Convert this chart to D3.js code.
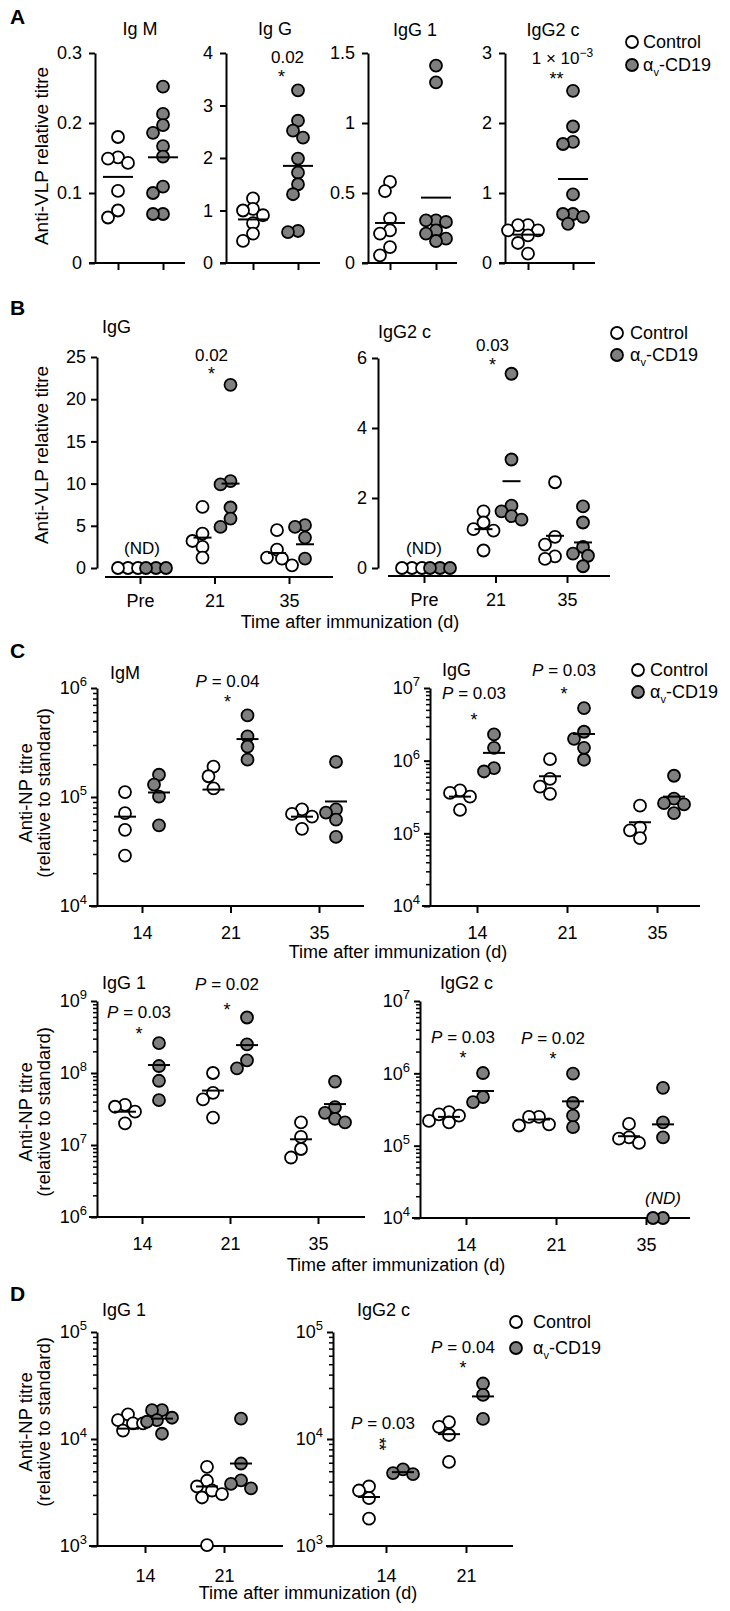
<!DOCTYPE html>
<html>
<head>
<meta charset="utf-8">
<script src="https://d3js.org/d3.v7.min.js"></script>
<style>
  html, body { margin:0; padding:0; background:#fff; }
  svg { display:block; }
</style>
</head>
<body>
<svg id="fig"></svg>
<script>
const FONT = "'Liberation Sans', Arial, Helvetica, sans-serif";
const GREY = "#7f7f7f";
const groups = ["Control", "αv-CD19"];

// ---------- A : anti-VLP, single bleed ----------
const A_IgM_control   = [0.18, 0.151, 0.149, 0.143, 0.103, 0.075, 0.065];
const A_IgM_cd19      = [0.252, 0.213, 0.197, 0.186, 0.167, 0.152, 0.109, 0.100, 0.070, 0.070];
const A_IgM_means     = [0.123, 0.151];
const A_IgG_control   = [1.23, 1.03, 1.0, 0.91, 0.76, 0.56, 0.42];
const A_IgG_cd19      = [3.29, 2.71, 2.52, 2.39, 1.99, 1.72, 1.50, 1.31, 0.61, 0.59];
const A_IgG_means     = [0.83, 1.85];
const A_IgG1_control  = [0.579, 0.514, 0.317, 0.233, 0.21, 0.114, 0.055];
const A_IgG1_cd19     = [1.41, 1.29, 0.305, 0.305, 0.293, 0.233, 0.21, 0.174, 0.157];
const A_IgG1_means    = [0.286, 0.467];
const A_IgG2c_control = [0.54, 0.54, 0.467, 0.467, 0.395, 0.286, 0.133];
const A_IgG2c_cd19    = [2.46, 1.95, 1.73, 1.70, 0.98, 0.70, 0.70, 0.66, 0.56];
const A_IgG2c_means   = [0.405, 1.20];

// ---------- B : anti-VLP over time ----------
const B_days = ["Pre", "21", "35"];
const B_IgG_control   = [[0, 0, 0], [7.25, 4.08, 3.2, 2.5, 1.23], [4.48, 2.18, 1.23, 1.1, 0.32]];
const B_IgG_cd19      = [[0, 0, 0], [21.7, 10.3, 9.9, 7.17, 5.86, 4.87], [5.07, 4.87, 3.6, 1.1]];
const B_IgG_meanCtl   = [null, 3.6, 1.78];
const B_IgG_meanCd19  = [null, 10.0, 2.81];
const B_IgG2c_control = [[0, 0, 0], [1.62, 1.30, 1.11, 1.07, 0.50], [2.45, 0.89, 0.67, 0.33, 0.26]];
const B_IgG2c_cd19    = [[0, 0, 0], [5.55, 3.10, 1.78, 1.62, 1.48, 1.38], [1.76, 1.30, 0.60, 0.41, 0.35, 0.05]];
const B_IgG2c_meanCtl = [null, 1.11, 0.92];
const B_IgG2c_meanCd19 = [null, 2.48, 0.73];

// ---------- C : anti-NP ----------
const C_days = ["14", "21", "35"];
const C_IgM_control   = [[1.11e5, 7.1e4, 5.0e4, 2.9e4], [1.9e5, 1.55e5, 1.2e5], [7.7e4, 7.0e4, 6.6e4, 5.1e4]];
const C_IgM_cd19      = [[1.6e5, 1.3e5, 1.01e5, 5.5e4], [5.6e5, 3.6e5, 2.9e5, 2.2e5], [2.1e5, 7.7e4, 7.2e4, 6.2e4, 4.3e4]];
const C_IgM_meanCtl   = [6.6e4, 1.17e5, 6.6e4];
const C_IgM_meanCd19  = [1.1e5, 3.4e5, 9.1e4];
const C_IgG_control   = [[3.9e5, 3.6e5, 3.2e5, 2.1e5], [1.05e6, 5.6e5, 4.4e5, 3.5e5], [2.4e5, 1.2e5, 1.1e5, 8.6e4]];
const C_IgG_cd19      = [[2.3e6, 1.5e6, 7.9e5, 7.1e5], [5.3e6, 2.5e6, 2.0e6, 1.5e6, 1.03e6], [6.2e5, 3.0e5, 2.6e5, 2.5e5, 1.9e5]];
const C_IgG_meanCtl   = [3.2e5, 6.1e5, 1.42e5];
const C_IgG_meanCd19  = [1.28e6, 2.33e6, 3.2e5];
const C_IgG1_control  = [[3.6e7, 3.4e7, 2.9e7, 2.0e7], [1.0e8, 5.3e7, 4.3e7, 2.4e7], [2.06e7, 1.3e7, 8.8e6, 6.7e6]];
const C_IgG1_cd19     = [[2.6e8, 1.25e8, 7.8e7, 4.2e7], [5.9e8, 2.5e8, 1.5e8, 1.16e8], [7.6e7, 3.35e7, 2.8e7, 2.3e7, 2.06e7]];
const C_IgG1_meanCtl  = [2.9e7, 5.7e7, 1.2e7];
const C_IgG1_meanCd19 = [1.29e8, 2.44e8, 3.7e7];
const C_IgG2c_control = [[2.9e5, 2.7e5, 2.6e5, 2.2e5, 2.1e5], [2.5e5, 2.5e5, 1.97e5, 1.9e5], [2.0e5, 1.3e5, 1.25e5, 1.09e5]];
const C_IgG2c_cd19    = [[1.01e6, 4.7e5, 4.0e5], [9.9e5, 3.9e5, 2.6e5, 1.8e5], [6.3e5, 2.1e5, 1.3e5, 1e4, 1e4]];
const C_IgG2c_meanCtl = [2.5e5, 2.3e5, 1.35e5];
const C_IgG2c_meanCd19 = [5.7e5, 4.1e5, 1.97e5];

// ---------- D : anti-NP, second set ----------
const D_days = ["14", "21"];
const D_IgG1_control  = [[1.7e4, 1.5e4, 1.4e4, 1.4e4, 1.2e4], [5.5e3, 4.07e3, 3.6e3, 3.3e3, 3.06e3, 2.84e3, 1.02e3]];
const D_IgG1_cd19     = [[1.86e4, 1.86e4, 1.58e4, 1.5e4, 1.45e4, 1.12e4], [1.55e4, 5.9e3, 4.1e3, 3.8e3, 3.45e3]];
const D_IgG1_meanCtl  = [1.25e4, 3.6e3];
const D_IgG1_meanCd19 = [1.55e4, 5.9e3];
const D_IgG2c_control = [[3.6e3, 3.3e3, 2.8e3, 1.8e3], [1.44e4, 1.3e4, 1.09e4, 6.1e3]];
const D_IgG2c_cd19    = [[5.2e3, 4.8e3, 4.7e3], [3.3e4, 2.58e4, 1.54e4]];
const D_IgG2c_meanCtl = [2.87e3, 1.11e4];
const D_IgG2c_meanCd19 = [4.9e3, 2.5e4];


const W = 730, H = 1611;
const svg = d3.select("#fig").attr("width", W).attr("height", H)
  .style("font-family", FONT);
svg.append("rect").attr("width", W).attr("height", H).attr("fill", "#fff");

// text placed by its visual centre
function label(g, x, yc, str, fs, anchor) {
  return g.append("text")
    .attr("x", x).attr("y", yc + 0.36 * fs)
    .attr("font-size", fs)
    .attr("text-anchor", anchor || "middle")
    .attr("fill", "#000")
    .text(str);
}

// small beeswarm so equal values sit side by side
function dodge(ys, minD) {
  const order = d3.range(ys.length).sort((a, b) => ys[a] - ys[b]);
  const cands = [0, -5, 5, -10, 10, -15, 15, -20, 20];
  const placed = [], dx = [];
  order.forEach(i => {
    for (const c of cands) {
      if (placed.every(p => Math.hypot(p.x - c, p.y - ys[i]) >= minD)) {
        dx[i] = c; placed.push({x: c, y: ys[i]}); return;
      }
    }
    dx[i] = 0;
  });
  return dx;
}

function styleAxis(sel, w) {
  sel.attr("font-family", FONT).attr("font-size", 18);
  sel.selectAll("path.domain").attr("stroke", "#000").attr("stroke-width", 2);
  sel.selectAll(".tick line").attr("stroke", "#000").attr("stroke-width", w || 2);
  sel.selectAll(".tick text").attr("fill", "#000");
}

function plot(c) {
  const g = svg.append("g");
  const y = (c.log ? d3.scaleLog() : d3.scaleLinear())
    .domain(c.yDomain).range([c.yBottom, c.yTop]);
  const x = d3.scalePoint().domain(c.cats).range(c.xRange);

  // y axis
  if (c.log) {
    const minor = y.ticks().filter(v => Math.abs(Math.log10(v) - Math.round(Math.log10(v))) > 1e-6);
    const am = g.append("g").attr("transform", `translate(${c.x0},0)`)
      .call(d3.axisLeft(y).tickValues(minor).tickSize(4).tickFormat("").tickSizeOuter(0));
    am.select(".domain").remove();
    styleAxis(am, 1.5);
  }
  const yAx = d3.axisLeft(y).tickValues(c.yTicks).tickSize(6)
    .tickPadding(c.log ? 4 : c.yPad).tickSizeOuter(0);
  if (!c.log) yAx.tickFormat(d3.format("~g"));
  const ay = g.append("g").attr("transform", `translate(${c.x0},0)`).call(yAx);
  styleAxis(ay);
  if (c.log) {
    ay.selectAll(".tick text").text(null).each(function(d) {
      const t = d3.select(this);
      t.append("tspan").text("10");
      t.append("tspan").attr("dy", "-0.6em").attr("font-size", 13)
        .text(Math.round(Math.log10(d)));
    });
  }

  // x axis
  g.append("line")
    .attr("x1", c.xStart).attr("x2", c.xEnd)
    .attr("y1", c.xAxisY).attr("y2", c.xAxisY)
    .attr("stroke", "#000").attr("stroke-width", 2);
  const ax = g.append("g").attr("transform", `translate(0,${c.xAxisY})`)
    .call(d3.axisBottom(x).tickSize(7).tickPadding(c.xPad || 10)
      .tickFormat(c.xLabels ? null : ""));
  ax.select(".domain").remove();
  styleAxis(ax);

  // points
  c.series.forEach((s, si) => {
    s.values.forEach((vals, ci) => {
      if (!vals || !vals.length) return;
      const cx = x(c.cats[ci]) + c.offsets[si];
      const dx = dodge(vals.map(v => y(v)), 10);
      g.append("g").selectAll("circle").data(vals).join("circle")
        .attr("cx", (d, i) => cx + dx[i])
        .attr("cy", d => y(d))
        .attr("r", 6)
        .attr("fill", s.fill)
        .attr("stroke", "#000")
        .attr("stroke-width", 1.8);
    });
  });

  // mean bars
  c.series.forEach((s, si) => {
    const ms = s.means.map((m, ci) => ({m, ci})).filter(d => d.m != null);
    g.append("g").selectAll("line").data(ms).join("line")
      .attr("x1", d => x(c.cats[d.ci]) + c.offsets[si] - c.meanW / 2)
      .attr("x2", d => x(c.cats[d.ci]) + c.offsets[si] + c.meanW / 2)
      .attr("y1", d => y(d.m)).attr("y2", d => y(d.m))
      .attr("stroke", "#000").attr("stroke-width", 2);
  });

  // title
  label(g, c.title.x, c.title.yc, c.title.text, 18, c.title.anchor || "start");

  // significance notes
  (c.notes || []).forEach(n => {
    let px, sx, vals;
    if (n.cat === "both") {
      const mid = (x(c.cats[0]) + x(c.cats[1])) / 2;
      px = mid + 12; sx = mid + 6;
      vals = c.series.flatMap(s => s.values.flat());
    } else {
      px = sx = x(c.cats[n.cat]) - 3;
      vals = c.series.flatMap(s => s.values[n.cat]);
    }
    const ym = y(d3.max(vals));
    const yS = ym - (n.starGap || 17), yP = ym - (n.pGap || 35);
    const t = g.append("text").attr("x", px).attr("y", yP + 0.36 * 17)
      .attr("font-size", 17).attr("text-anchor", "middle");
    if (n.p.startsWith("P ")) {
      t.append("tspan").attr("font-style", "italic").text("P");
      t.append("tspan").text(n.p.slice(1));
    } else if (n.p.includes("^")) {
      const [b, e] = n.p.split("^");
      t.append("tspan").text(b);
      t.append("tspan").attr("dy", "-0.55em").attr("font-size", 12).text(e);
    } else t.text(n.p);
    if (n.stack) {
      // the pair of stars runs downwards: one text turned on its side
      g.append("text").attr("font-size", 18).attr("text-anchor", "middle")
        .attr("letter-spacing", -1)
        .attr("transform", `translate(${sx},${yS}) rotate(90)`)
        .attr("x", 0).attr("y", 10).text(n.stars);
    } else {
      g.append("text").attr("font-size", 18).attr("text-anchor", "middle")
        .attr("x", sx).attr("y", yS + 10).text(n.stars);
    }
  });

  // not-detected tag
  if (c.nd) {
    label(g, x(c.cats[c.nd.cat]) + c.nd.dx, y(c.yDomain[0]) - 20, "(ND)", 17)
      .attr("font-style", c.nd.italic ? "italic" : null);
  }
  return g;
}

function legend(cx, y1, y2, tx) {
  const g = svg.append("g");
  [[y1, "#fff"], [y2, GREY]].forEach(([yy, f]) => {
    g.append("circle").attr("cx", cx).attr("cy", yy).attr("r", 6)
      .attr("fill", f).attr("stroke", "#000").attr("stroke-width", 1.8);
  });
  label(g, tx, y1, "Control", 18, "start");
  const t = label(g, tx, y2, "", 18, "start");
  t.append("tspan").text("α");
  t.append("tspan").attr("font-size", 11).attr("dy", 5).text("v");
  t.append("tspan").attr("dy", -5).text("-CD19");
}

function yTitle(x, yc, lines, fs) {
  lines.forEach((s, i) => {
    svg.append("text")
      .attr("transform", `translate(${x[i]},${yc}) rotate(-90)`)
      .attr("text-anchor", "middle").attr("font-size", fs).text(s);
  });
}

function panelLetter(s, yc) {
  label(svg, 10, yc, s, 21, "start").attr("font-weight", "bold");
}

// build a two-group A chart
function aSeries(ctl, cd, means) {
  return [
    {values: [ctl, []], means: [means[0], null], fill: "#fff"},
    {values: [[], cd], means: [null, means[1]], fill: GREY}
  ];
}
const aBase = {yTop: 53, yBottom: 263, xAxisY: 263, cats: groups, xLabels: false,
               offsets: [0, 0], meanW: 30, yPad: 7};

// ---------------- Panel A ----------------
panelLetter("A", 16);
plot(Object.assign({}, aBase, {x0: 95, yDomain: [0, 0.3], yTicks: [0, 0.1, 0.2, 0.3],
  xStart: 89, xEnd: 185, xRange: [118, 163],
  series: aSeries(A_IgM_control, A_IgM_cd19, A_IgM_means),
  title: {text: "Ig M", x: 140, yc: 29, anchor: "middle"}}));
plot(Object.assign({}, aBase, {x0: 226, yDomain: [0, 4], yTicks: [0, 1, 2, 3, 4],
  xStart: 220, xEnd: 320, xRange: [253, 298],
  series: aSeries(A_IgG_control, A_IgG_cd19, A_IgG_means),
  title: {text: "Ig G", x: 275, yc: 29, anchor: "middle"},
  notes: [{cat: "both", p: "0.02", stars: "*", pGap: 33}]}));
plot(Object.assign({}, aBase, {x0: 368, yDomain: [0, 1.5], yTicks: [0, 0.5, 1, 1.5],
  xStart: 362, xEnd: 457, xRange: [390, 436],
  series: aSeries(A_IgG1_control, A_IgG1_cd19, A_IgG1_means),
  title: {text: "IgG 1", x: 415, yc: 30, anchor: "middle"}}));
plot(Object.assign({}, aBase, {x0: 505, yDomain: [0, 3], yTicks: [0, 1, 2, 3],
  xStart: 499, xEnd: 595, xRange: [528, 573],
  series: aSeries(A_IgG2c_control, A_IgG2c_cd19, A_IgG2c_means),
  title: {text: "IgG2  c", x: 553, yc: 30, anchor: "middle"},
  notes: [{cat: "both", p: "1 × 10^−3", stars: "**", starGap: 16, pGap: 33}]}));
legend(632, 42, 65, 643);
yTitle([48], 156, ["Anti-VLP relative titre"], 19);

// ---------------- Panel B ----------------
panelLetter("B", 307);
const bBase = {yBottom: 568, cats: B_days, xLabels: true, xPad: 10,
               offsets: [-12, 16], meanW: 18, yPad: 5};
plot(Object.assign({}, bBase, {x0: 97, yTop: 357, yDomain: [0, 25], yTicks: [0, 5, 10, 15, 20, 25],
  xAxisY: 577, xStart: 105, xEnd: 333, xRange: [140, 289],
  series: [{values: B_IgG_control, means: B_IgG_meanCtl, fill: "#fff"},
           {values: B_IgG_cd19, means: B_IgG_meanCd19, fill: GREY}],
  title: {text: "IgG", x: 102, yc: 327},
  notes: [{cat: 1, p: "0.02", stars: "*", starGap: 15, pGap: 30}],
  nd: {cat: 0, dx: 2}}));
plot(Object.assign({}, bBase, {x0: 378, yTop: 358, yDomain: [0, 6], yTicks: [0, 2, 4, 6],
  xAxisY: 576, xStart: 388, xEnd: 610, xRange: [424, 567],
  series: [{values: B_IgG2c_control, means: B_IgG2c_meanCtl, fill: "#fff"},
           {values: B_IgG2c_cd19, means: B_IgG2c_meanCd19, fill: GREY}],
  title: {text: "IgG2 c", x: 378, yc: 332},
  notes: [{cat: 1, p: "0.03", stars: "*", starGap: 13, pGap: 29}],
  nd: {cat: 0, dx: 0}}));
legend(617, 333, 355, 630);
yTitle([48], 455, ["Anti-VLP relative titre"], 19);
label(svg, 350, 622, "Time after immunization (d)", 18);

// ---------------- Panel C ----------------
panelLetter("C", 650);
const cBase = {log: true, cats: C_days, xLabels: true, xPad: 13,
               offsets: [-17, 17], meanW: 22};
plot(Object.assign({}, cBase, {x0: 97, yTop: 688, yBottom: 906, yDomain: [1e4, 1e6],
  yTicks: [1e4, 1e5, 1e6], xAxisY: 906, xStart: 89, xEnd: 364, xRange: [142, 319],
  series: [{values: C_IgM_control, means: C_IgM_meanCtl, fill: "#fff"},
           {values: C_IgM_cd19, means: C_IgM_meanCd19, fill: GREY}],
  title: {text: "IgM", x: 110, yc: 673},
  notes: [{cat: 1, p: "P = 0.04", stars: "*"}]}));
plot(Object.assign({}, cBase, {x0: 430, yTop: 688, yBottom: 906, yDomain: [1e4, 1e7],
  yTicks: [1e4, 1e5, 1e6, 1e7], xAxisY: 906, xStart: 422, xEnd: 700, xRange: [477, 657],
  series: [{values: C_IgG_control, means: C_IgG_meanCtl, fill: "#fff"},
           {values: C_IgG_cd19, means: C_IgG_meanCd19, fill: GREY}],
  title: {text: "IgG", x: 442, yc: 670},
  notes: [{cat: 0, p: "P = 0.03", stars: "*", starGap: 18, pGap: 42},
          {cat: 1, p: "P = 0.03", stars: "*", starGap: 18, pGap: 38}]}));
legend(638, 670, 692, 650);
yTitle([32, 50], 793, ["Anti-NP titre", "(relative to standard)"], 18.5);
label(svg, 398, 952, "Time after immunization (d)", 18);

plot(Object.assign({}, cBase, {x0: 97, yTop: 1001, yBottom: 1217, yDomain: [1e6, 1e9],
  yTicks: [1e6, 1e7, 1e8, 1e9], xAxisY: 1217, xStart: 89, xEnd: 365, xRange: [142, 318],
  series: [{values: C_IgG1_control, means: C_IgG1_meanCtl, fill: "#fff"},
           {values: C_IgG1_cd19, means: C_IgG1_meanCd19, fill: GREY}],
  title: {text: "IgG 1", x: 102, yc: 983},
  notes: [{cat: 0, p: "P = 0.03", stars: "*", starGap: 13, pGap: 31},
          {cat: 1, p: "P = 0.02", stars: "*", starGap: 11, pGap: 34}]}));
plot(Object.assign({}, cBase, {x0: 420, yTop: 1001, yBottom: 1218, yDomain: [1e4, 1e7],
  yTicks: [1e4, 1e5, 1e6, 1e7], xAxisY: 1218, xStart: 412, xEnd: 690, xRange: [466, 646],
  series: [{values: C_IgG2c_control, means: C_IgG2c_meanCtl, fill: "#fff"},
           {values: C_IgG2c_cd19, means: C_IgG2c_meanCd19, fill: GREY}],
  title: {text: "IgG2 c", x: 440, yc: 983},
  notes: [{cat: 0, p: "P = 0.03", stars: "*", starGap: 19, pGap: 36},
          {cat: 1, p: "P = 0.02", stars: "*", starGap: 19, pGap: 36}],
  nd: {cat: 2, dx: 17, italic: true}}));
yTitle([32, 50], 1112, ["Anti-NP titre", "(relative to standard)"], 18.5);
label(svg, 396, 1265, "Time after immunization (d)", 18);

// ---------------- Panel D ----------------
panelLetter("D", 1293);
const dBase = {log: true, cats: D_days, xLabels: true, xPad: 16,
               offsets: [-17, 17], meanW: 22, yTop: 1332, yBottom: 1546,
               yDomain: [1e3, 1e5], yTicks: [1e3, 1e4, 1e5], xAxisY: 1546};
plot(Object.assign({}, dBase, {x0: 97, xStart: 89, xEnd: 283, xRange: [145, 224],
  series: [{values: D_IgG1_control, means: D_IgG1_meanCtl, fill: "#fff"},
           {values: D_IgG1_cd19, means: D_IgG1_meanCd19, fill: GREY}],
  title: {text: "IgG 1", x: 102, yc: 1310}}));
plot(Object.assign({}, dBase, {x0: 333, xStart: 326, xEnd: 513, xRange: [386, 466],
  series: [{values: D_IgG2c_control, means: D_IgG2c_meanCtl, fill: "#fff"},
           {values: D_IgG2c_cd19, means: D_IgG2c_meanCd19, fill: GREY}],
  title: {text: "IgG2 c", x: 357, yc: 1310},
  notes: [{cat: 0, p: "P = 0.03", stars: "**", stack: true, starGap: 26, pGap: 47},
          {cat: 1, p: "P = 0.04", stars: "*", starGap: 20, pGap: 37}]}));
legend(516, 1322, 1348, 533);
yTitle([32, 50], 1422, ["Anti-NP titre", "(relative to standard)"], 18.5);
label(svg, 308, 1593, "Time after immunization (d)", 18);
</script>
</body>
</html>
